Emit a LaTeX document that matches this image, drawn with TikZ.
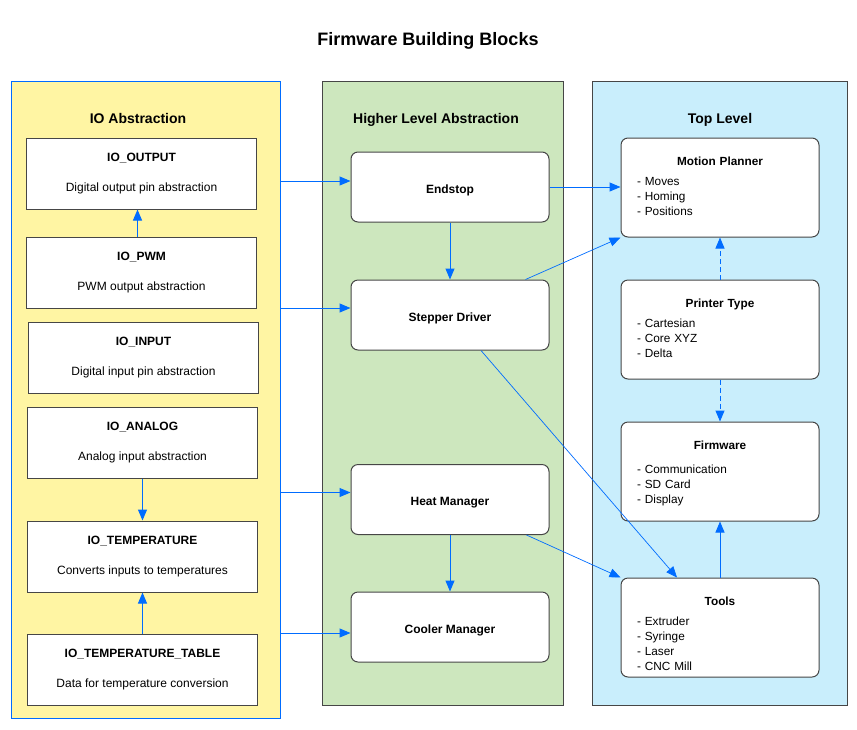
\documentclass[tikz,border=0pt]{standalone}
\usepackage{fontspec}
\setmainfont{Liberation Sans}
\usetikzlibrary{arrows.meta}
\definecolor{ioyellow}{RGB}{255,245,163}
\definecolor{hlgreen}{RGB}{205,231,190}
\definecolor{topblue}{RGB}{201,238,252}
\definecolor{linkblue}{RGB}{0,108,255}
\definecolor{edgegray}{RGB}{70,70,70}
\tikzset{
  layer/.style={draw=edgegray, line width=1pt, inner sep=0pt},
  iobox/.style={draw=edgegray, fill=white, line width=1pt, inner sep=0pt,
    minimum width=230pt, minimum height=71pt, align=center, font=\fontsize{12}{14}\selectfont},
  hlbox/.style={draw=edgegray, fill=white, line width=1pt, rounded corners=7pt,
    minimum width=198pt, minimum height=70pt, text height=12.5pt, text depth=0pt,
    font=\fontsize{12}{14}\selectfont\bfseries},
  topbox/.style={draw=edgegray, fill=white, line width=1pt, rounded corners=7pt,
    minimum width=198pt, minimum height=99pt, inner sep=0pt},
  toptext/.style={anchor=north, text width=166pt, inner sep=0pt,
    font=\fontsize{11.8}{15}\selectfont},
  layertitle/.style={font=\fontsize{14}{17}\selectfont\bfseries, text height=10pt, text depth=0pt},
  link/.style={draw=linkblue, line width=1pt, -{Triangle[length=11pt,width=9pt]}},
  hint/.style={link, dashed, dash pattern=on 5pt off 3pt}
}
\begin{document}
\begin{tikzpicture}[x=1pt, y=-1pt]
\useasboundingbox (0,0) rectangle (857,729);

% title
\node[font=\fontsize{18}{22}\selectfont\bfseries] (title) at (428,41) {Firmware Building Blocks};

% the three layers
\node[layer, draw=linkblue, fill=ioyellow, minimum width=269pt, minimum height=637pt] (io) at (145.5,399.5) {};
\node[layer, fill=hlgreen, minimum width=241pt, minimum height=624pt] (hl) at (442.5,393) {};
\node[layer, fill=topblue, minimum width=255pt, minimum height=624pt] (top) at (719.5,393) {};

\node[layertitle] (io-title) at (138,118) {IO Abstraction};
\node[layertitle] (hl-title) at (436,118) {Higher Level Abstraction};
\node[layertitle] (top-title) at (720,118) {Top Level};

% IO abstraction
\node[iobox] (output) at (141.5,173.5) {\textbf{IO\_OUTPUT}\\[16pt]Digital output pin abstraction};
\node[iobox] (pwm) at (141.5,272.5) {\textbf{IO\_PWM}\\[16pt]PWM output abstraction};
\node[iobox] (input) at (143.5,357.5) {\textbf{IO\_INPUT}\\[16pt]Digital input pin abstraction};
\node[iobox] (analog) at (142.5,442.5) {\textbf{IO\_ANALOG}\\[16pt]Analog input abstraction};
\node[iobox] (temp) at (142.5,556.5) {\textbf{IO\_TEMPERATURE}\\[16pt]Converts inputs to temperatures};
\node[iobox] (table) at (142.5,669.5) {\textbf{IO\_TEMPERATURE\_TABLE}\\[16pt]Data for temperature conversion};

% higher level abstraction
\node[hlbox] (endstop) at (450,187) {Endstop};
\node[hlbox] (stepper) at (450,315) {Stepper Driver};
\node[hlbox] (heat) at (450,499.5) {Heat Manager};
\node[hlbox] (cooler) at (450,627) {Cooler Manager};

% top level
\node[topbox] (planner) at (720,187.5) {};
\node[topbox] (printer) at (720,329.5) {};
\node[topbox] (firmware) at (720,471.5) {};
\node[topbox] (tools) at (720,627.5) {};

\node[toptext] (planner-txt) at ([yshift=-19pt]planner.north)
  {\centering\textbf{Motion Planner}\par\vspace{5pt}\raggedright - Moves\\- Homing\\- Positions\par};
\node[toptext] (printer-txt) at ([yshift=-19pt]printer.north)
  {\centering\textbf{Printer Type}\par\vspace{5pt}\raggedright - Cartesian\\- Core XYZ\\- Delta\par};
\node[toptext] (firmware-txt) at ([yshift=-19pt]firmware.north)
  {\centering\textbf{Firmware}\par\vspace{9pt}\raggedright - Communication\\- SD Card\\- Display\par};
\node[toptext] (tools-txt) at ([yshift=-19pt]tools.north)
  {\centering\textbf{Tools}\par\vspace{5pt}\raggedright - Extruder\\- Syringe\\- Laser\\- CNC Mill\par};

% IO links
\draw[link] ([xshift=-4pt]pwm.north) -- ([xshift=-4pt]output.south);
\draw[link] (analog.south) -- (analog.south |- temp.north);
\draw[link] (table.north) -- (temp.south);

% from the IO layer
\coordinate (in-endstop) at ([yshift=6pt]endstop.west);
\coordinate (in-stepper) at ([yshift=7pt]stepper.west);
\coordinate (in-heat) at ([yshift=7pt]heat.west);
\coordinate (in-cooler) at ([yshift=-6pt]cooler.west);
\foreach \tgt in {in-endstop, in-stepper, in-heat, in-cooler}
  \draw[link] (io.east |- \tgt) -- (\tgt);

% higher level links
\draw[link] (endstop.south) -- (stepper.north);
\draw[link] (heat.south) -- (cooler.north);
\draw[link] (endstop.east) -- (planner.west |- endstop.east);
\draw[link, line width=0.7pt] ([xshift=-24pt]stepper.north east) -- (planner.south west);
\draw[link, line width=0.7pt] ([xshift=31pt]stepper.south) -- ([xshift=-43pt]tools.north);
\draw[link, line width=0.7pt] ([xshift=-23pt]heat.south east) -- (tools.north west);

% top level links
\draw[link] (tools.north) -- (firmware.south);
\draw[hint] (printer.north) -- (planner.south);
\draw[hint] (printer.south) -- (firmware.north);
\end{tikzpicture}
\end{document}
